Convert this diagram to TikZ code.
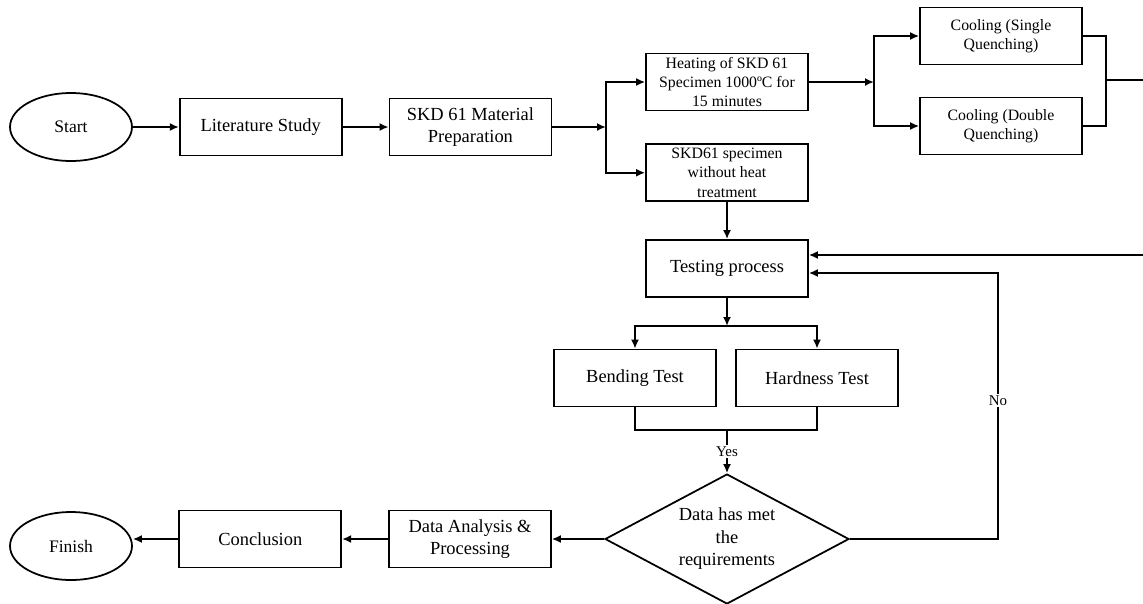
\documentclass[tikz,border=0pt]{standalone}
\usepackage{fontspec}
\setmainfont{Liberation Serif}
\usetikzlibrary{positioning,arrows.meta,shapes.geometric}

\begin{document}
\begin{tikzpicture}[x=0.02cm,y=-0.02cm,
    blk/.style={draw,line width=1pt,minimum width=3.24cm,minimum height=1.14cm,
                align=center,inner sep=1pt,font=\fontsize{10.5}{13}\selectfont},
    sblk/.style={blk,font=\fontsize{9}{11}\selectfont},
    term/.style={ellipse,draw,line width=1pt,minimum width=2.44cm,minimum height=1.36cm,
                 font=\fontsize{10}{12}\selectfont},
    dec/.style={diamond,draw,line width=1pt,aspect=1.88,minimum width=4.88cm,minimum height=2.6cm,
                align=center,inner sep=0pt,font=\fontsize{10.5}{12.8}\selectfont},
    fl/.style={-{Latex[length=1.8mm,width=1.6mm]},line width=1pt},
    ln/.style={line width=1pt},
    lbl/.style={fill=white,inner sep=1pt,font=\fontsize{8.5}{10}\selectfont},
    node distance=0.64cm and 0.92cm]
  \useasboundingbox (0,0) rectangle (1143,603);
  % top row
  \node[term] (start) at (71,127) {Start};
  \node[blk,right=of start] (lit) {Literature Study};
  \node[blk,right=of lit] (prep) {SKD 61 Material\\Preparation};
  \coordinate (j1) at (606,127);
  \node[sblk] (heat) at (727,82) {Heating of SKD 61\\Specimen 1000ºC for\\15 minutes};
  \node[sblk,below=of heat] (spec) {SKD61 specimen\\without heat\\treatment};
  \coordinate (j2) at (874,82);
  \node[sblk] (single) at (1001,36) {Cooling (Single\\Quenching)};
  \node[sblk] (double) at (1001,126) {Cooling (Double\\Quenching)};
  \coordinate (j3) at (1106,80);
  \coordinate (out) at (1143,80);
  % testing
  \node[blk,below=0.74cm of spec] (test) {Testing process};
  \coordinate (back) at (1143,255);
  \coordinate (j4) at (727,326);
  \node[blk] (bend) at (635,378) {Bending Test};
  \node[blk] (hard) at (817,378) {Hardness Test};
  \coordinate (j5) at (727,430);
  \node[dec] (check) at (727,539) {Data has met\\the\\requirements};
  \coordinate (j6) at (998,273);
  % bottom row
  \node[blk] (anal) at (470,539) {Data Analysis \&\\Processing};
  \node[blk,left=of anal] (concl) {Conclusion};
  \node[term] (finish) at (71,546) {Finish};

  \draw[fl] (start) -- (lit);
  \draw[fl] (lit) -- (prep);
  \draw[fl] (prep) -- (j1);
  \draw[fl] (j1) |- (heat);
  \draw[fl] (j1) |- (spec);
  \draw[fl] (heat) -- (j2);
  \draw[fl] (j2) |- (single);
  \draw[fl] (j2) |- (double);
  \draw[ln] (single) -| (j3) |- (double);
  \draw[ln] (j3) -- (out);
  \draw[fl] (spec) -- (test);
  \draw[fl] (back) -- (back -| test.east);
  \draw[fl] (test) -- (j4);
  \draw[fl] (j4) -| (bend);
  \draw[fl] (j4) -| (hard);
  \draw[ln] (bend) |- (j5) -| (hard);
  \draw[fl] (j5) -- node[lbl]{Yes} (check);
  \draw[fl] (check) -| node[lbl,pos=0.76]{No} (j6) -- (j6 -| test.east);
  \draw[fl] (check) -- (anal);
  \draw[fl] (anal) -- (concl);
  \draw[fl] (concl) -- (concl.west -| finish.east);
\end{tikzpicture}
\end{document}
